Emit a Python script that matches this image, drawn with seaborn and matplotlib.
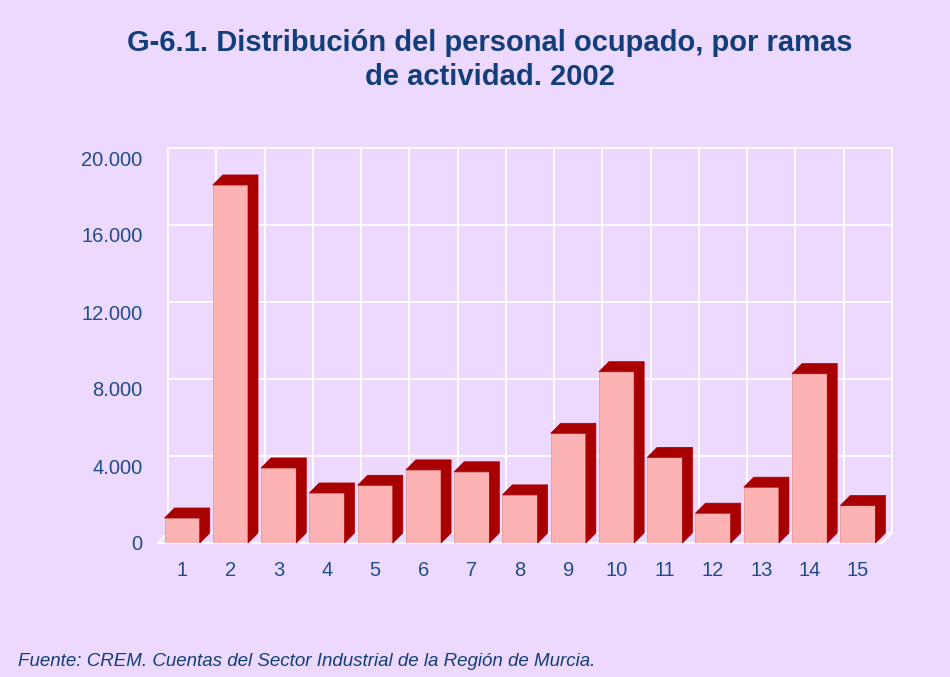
import matplotlib
matplotlib.use('Agg')
import matplotlib.pyplot as plt
from matplotlib.patches import Polygon
import seaborn as sns
import pandas as pd

# ramas de actividad y personal ocupado
ramas = [str(i) for i in range(1, 16)]
personal = [1300, 18600, 3900, 2600, 3000, 3800, 3700, 2500,
            5700, 8900, 4450, 1550, 2900, 8800, 1950]
yticks = [0, 4000, 8000, 12000, 16000, 20000]
ytick_labels = ['0', '4.000', '8.000', '12.000', '16.000', '20.000']

titulo = 'G-6.1. Distribución del personal ocupado, por ramas\nde actividad. 2002'
fuente = 'Fuente: CREM. Cuentas del Sector Industrial de la Región de Murcia.'

BG = '#EDD9FD'
FRONT = '#FDB3B3'
DARK = '#A80000'
NAVY = '#123E7A'
TICK = '#1F4C8A'

plt.rcParams['font.family'] = ['Liberation Sans', 'DejaVu Sans']

df = pd.DataFrame({'rama': ramas, 'personal': personal})

fig = plt.figure(figsize=(9.5, 6.77), dpi=100, facecolor=BG)
ax = fig.add_axes([158 / 950, 134 / 677, 724 / 950, 385 / 677])
ax.set_facecolor('none')

sns.barplot(data=df, x='rama', y='personal', color=FRONT, width=0.73,
            saturation=1, edgecolor='#E39A9A', linewidth=0.6, ax=ax, zorder=3)

ax.set_xlim(-0.5, 14.5)
ax.set_ylim(0, 20000)
ax.set_yticks(yticks)
ax.set_yticklabels(ytick_labels)
ax.set_xlabel('')
ax.set_ylabel('')
for s in ax.spines.values():
    s.set_visible(False)
ax.tick_params(length=0, colors=TICK, labelsize=14.5)
ax.tick_params(axis='y', pad=11)
ax.tick_params(axis='x', pad=13)
ax.grid(False)

# profundidad del efecto 3D: 10 px convertidos a unidades de datos
fig.canvas.draw()
inv = ax.transData.inverted()
x0, y0 = ax.transData.transform((0, 0))
dx, dy = inv.transform((x0 + 10, y0 + 10)) - (0, 0)

# pared del fondo (rejilla blanca)
grid_kw = dict(color='white', lw=1.3, clip_on=False, zorder=1)
for t in yticks:
    ax.plot([-0.5 + dx, 14.5 + dx], [t + dy, t + dy], **grid_kw)
for k in range(len(ramas) + 1):
    xv = k - 0.5 + dx
    ax.plot([xv, xv], [dy, 20000 + dy], **grid_kw)
# suelo
ax.plot([-0.5, 14.5], [0, 0], **grid_kw)
ax.plot([-0.5, -0.5 + dx], [0, dy], **grid_kw)
ax.plot([14.5, 14.5 + dx], [0, dy], **grid_kw)

# caras superior y lateral de cada barra
for bar in ax.patches[:len(ramas)]:
    xl = bar.get_x()
    xr = xl + bar.get_width()
    h = bar.get_height()
    top = Polygon([(xl, h), (xr, h), (xr + dx, h + dy), (xl + dx, h + dy)],
                  closed=True, facecolor=DARK, edgecolor=DARK, lw=0.5,
                  zorder=4, clip_on=False)
    side = Polygon([(xr, 0), (xr + dx, dy), (xr + dx, h + dy), (xr, h)],
                   closed=True, facecolor=DARK, edgecolor=DARK, lw=0.5,
                   zorder=4, clip_on=False)
    ax.add_patch(top)
    ax.add_patch(side)

fig.text(490 / 950, 1 - 60 / 677, titulo, ha='center', va='center',
         fontsize=21, fontweight='bold', color=NAVY, linespacing=1.28)
fig.text(18 / 950, 1 - 662 / 677, fuente, ha='left', va='center',
         fontsize=13.5, style='italic', color=NAVY)

fig.savefig('out.png', dpi=100, facecolor=BG)
